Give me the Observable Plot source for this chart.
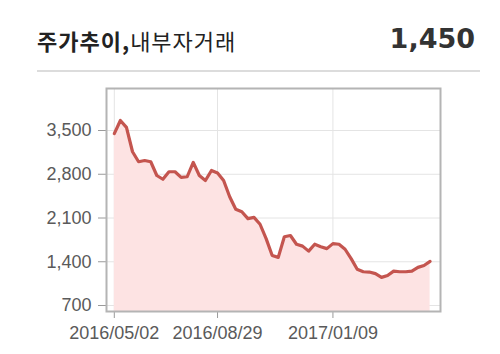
<!DOCTYPE html>
<html>
<head>
<meta charset="utf-8">
<script src="https://cdn.jsdelivr.net/npm/d3@7"></script>
<script src="https://cdn.jsdelivr.net/npm/@observablehq/plot@0.6"></script>
<style>
  html, body { margin: 0; padding: 0; background: #fff; }
  #wrap { position: relative; width: 500px; height: 354px; overflow: hidden; }
  #title { position: absolute; left: 37px; top: 26px; font-family: "Noto Sans CJK KR", sans-serif; font-size: 22px; line-height: 28px; letter-spacing: 1px; color: #222; white-space: nowrap; }
  #title b { font-weight: 700; }
  #title span { font-weight: 400; }
  #price { position: absolute; right: 25px; top: 22px; font-family: "DejaVu Sans", sans-serif; font-weight: 700; font-size: 27px; line-height: 34px; color: #333; }
  #sep { position: absolute; left: 37px; top: 70px; width: 443px; height: 2px; background: #dcdcdc; }
  #chart { position: absolute; left: 0; top: 80px; }
  #chart svg [aria-label$="tick"] path { stroke: #9a9a9a; }
</style>
</head>
<body>
<div id="wrap">
  <div id="title"><b>주가추이,</b><span>내부자거래</span></div>
  <div id="price"></div>
  <div id="sep"></div>
  <div id="chart"></div>
</div>
<script>
const headerPrice = 1450;

const dates = [
  "2016-05-02","2016-05-09","2016-05-16","2016-05-23","2016-05-30",
  "2016-06-06","2016-06-13","2016-06-20","2016-06-27",
  "2016-07-04","2016-07-11","2016-07-18","2016-07-25",
  "2016-08-01","2016-08-08","2016-08-15","2016-08-22","2016-08-29",
  "2016-09-05","2016-09-12","2016-09-19","2016-09-26",
  "2016-10-03","2016-10-10","2016-10-17","2016-10-24","2016-10-31",
  "2016-11-07","2016-11-14","2016-11-21","2016-11-28",
  "2016-12-05","2016-12-12","2016-12-19","2016-12-26",
  "2017-01-02","2017-01-09","2017-01-16","2017-01-23","2017-01-30",
  "2017-02-06","2017-02-13","2017-02-20","2017-02-27",
  "2017-03-06","2017-03-13","2017-03-20","2017-03-27",
  "2017-04-03","2017-04-10","2017-04-17","2017-04-24","2017-05-01"
];

const prices = [
  3450,3660,3550,3160,3000,3020,3000,2780,2720,2840,
  2840,2750,2760,2990,2780,2700,2860,2820,2700,2440,
  2240,2200,2090,2110,2000,1770,1500,1470,1800,1820,
  1680,1650,1570,1680,1640,1610,1690,1680,1600,1450,
  1280,1240,1235,1210,1150,1180,1250,1240,1240,1250,
  1310,1340,1405
];

const yTicks = [700, 1400, 2100, 2800, 3500];
const xTickLabels = ["2016-05-02", "2016-08-29", "2017-01-09"];

const yDomain = [604, 4172];
const xDomain = ["2016-04-23", "2017-05-13"];

const data = dates.map((d, i) => ({date: new Date(d), value: prices[i]}));
const xTicks = xTickLabels.map(d => new Date(d));

document.getElementById("price").textContent = d3.format(",")(headerPrice);

const chart = Plot.plot({
  width: 500,
  height: 274,
  marginTop: 8,
  marginBottom: 43,
  marginLeft: 106,
  marginRight: 60,
  style: {fontFamily: "'Liberation Sans', Arial, sans-serif", fontSize: "18px", color: "#5a5a5a", background: "transparent", overflow: "visible"},
  x: {type: "utc", domain: xDomain.map(d => new Date(d)), ticks: xTicks, tickFormat: d3.utcFormat("%Y/%m/%d"), tickSize: 7, tickPadding: 8, label: null},
  y: {domain: yDomain, ticks: yTicks, tickFormat: d3.format(","), tickSize: 8, tickPadding: 7, label: null},
  marks: [
    Plot.ruleY(yTicks, {stroke: "#e4e4e4", strokeWidth: 1}),
    Plot.ruleX(xTicks, {stroke: "#e4e4e4", strokeWidth: 1}),
    Plot.areaY(data, {x: "date", y1: () => yDomain[0], y2: "value", fill: "#fde3e3"}),
    Plot.lineY(data, {x: "date", y: "value", stroke: "#c4554f", strokeWidth: 3.2, strokeLinejoin: "round"}),
    Plot.frame({stroke: "#b4b4b4", strokeWidth: 2})
  ]
});
document.getElementById("chart").appendChild(chart);
</script>
</body>
</html>
